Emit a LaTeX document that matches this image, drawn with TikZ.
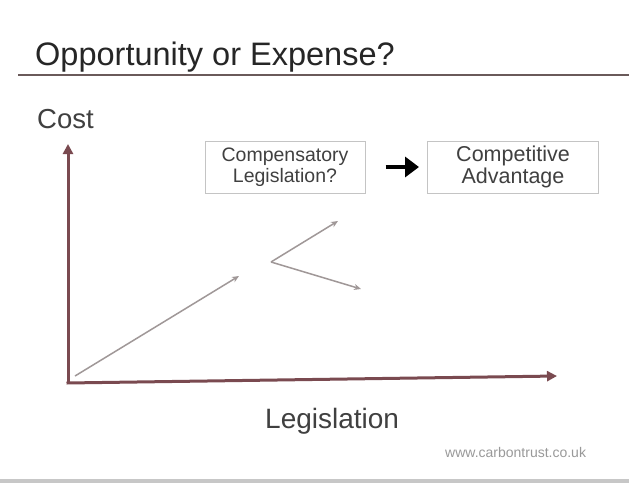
\documentclass[tikz,border=0pt]{standalone}
\usepackage{fontspec}
\setmainfont{Liberation Sans}
\usetikzlibrary{arrows.meta}
\definecolor{axiscol}{HTML}{7A4A50}
\definecolor{rulecol}{HTML}{6A5A5A}
\definecolor{sketchcol}{HTML}{A09898}
\definecolor{boxcol}{HTML}{C4C4C4}
\tikzset{
  axisline/.style={axiscol, line width=3pt, -{Triangle[length=10pt,width=10pt]}},
  sketch/.style={sketchcol, line width=1.5pt, -{Stealth[length=7pt,width=6pt]}},
  textbox/.style={draw=boxcol, line width=1pt, minimum height=52pt, align=center, font=\fontsize{19.5}{21}\selectfont, text=black!75, inner sep=0pt},
  label/.style={inner sep=0pt, anchor=base west}
}
\begin{document}
\begin{tikzpicture}[x=1pt,y=-1pt]
\useasboundingbox (0,0) rectangle (629,483);
\fill[white] (0,0) rectangle (629,483);
% title
\node[label, font=\fontsize{32.5}{34}\selectfont, text=black!85] (title) at (35,65) {Opportunity or Expense?};
\coordinate (rl) at (18,75);
\coordinate (rr) at (629,75);
\draw[rulecol, line width=2pt] (rl) -- (rr);
% bottom band
\fill[black!22] (0,479) rectangle (629,483);
% axes
\coordinate (o) at (68,383);
\coordinate (ytop) at (68,144);
\coordinate (xend) at (557,376);
\draw[axisline] (o) -- (ytop);
\draw[axisline] ([xshift=-1.5pt]o) -- (xend);
\node[label, font=\fontsize{27.5}{29}\selectfont, text=black!75] (cost) at (37,128) {Cost};
\node[label, font=\fontsize{28}{30}\selectfont, text=black!75] (leg) at (265,428) {Legislation};
% boxes
\node[textbox, minimum width=160pt] (b1) at (285,167) {Compensatory\\Legislation?};
\node[textbox, minimum width=171pt, font=\fontsize{21.5}{22}\selectfont] (b2) at (513,167) {Competitive\\Advantage};
\draw[black, line width=4.5pt, -{Triangle[length=14pt,width=20pt]}] ([xshift=20pt]b1.east) -- ([xshift=-8pt]b2.west);
% sketch lines
\coordinate (s0) at (75,376);
\coordinate (s1) at (239,276);
\coordinate (v) at (271,262);
\coordinate (s2) at (338,221);
\coordinate (s3) at (361,289);
\draw[sketch] (s0) -- (s1);
\draw[sketch] (v) -- (s2);
\draw[sketch] (v) -- (s3);
% footer
\node[label, font=\fontsize{14}{16}\selectfont, text=black!40] (foot) at (445,457) {www.carbontrust.co.uk};
\end{tikzpicture}
\end{document}
